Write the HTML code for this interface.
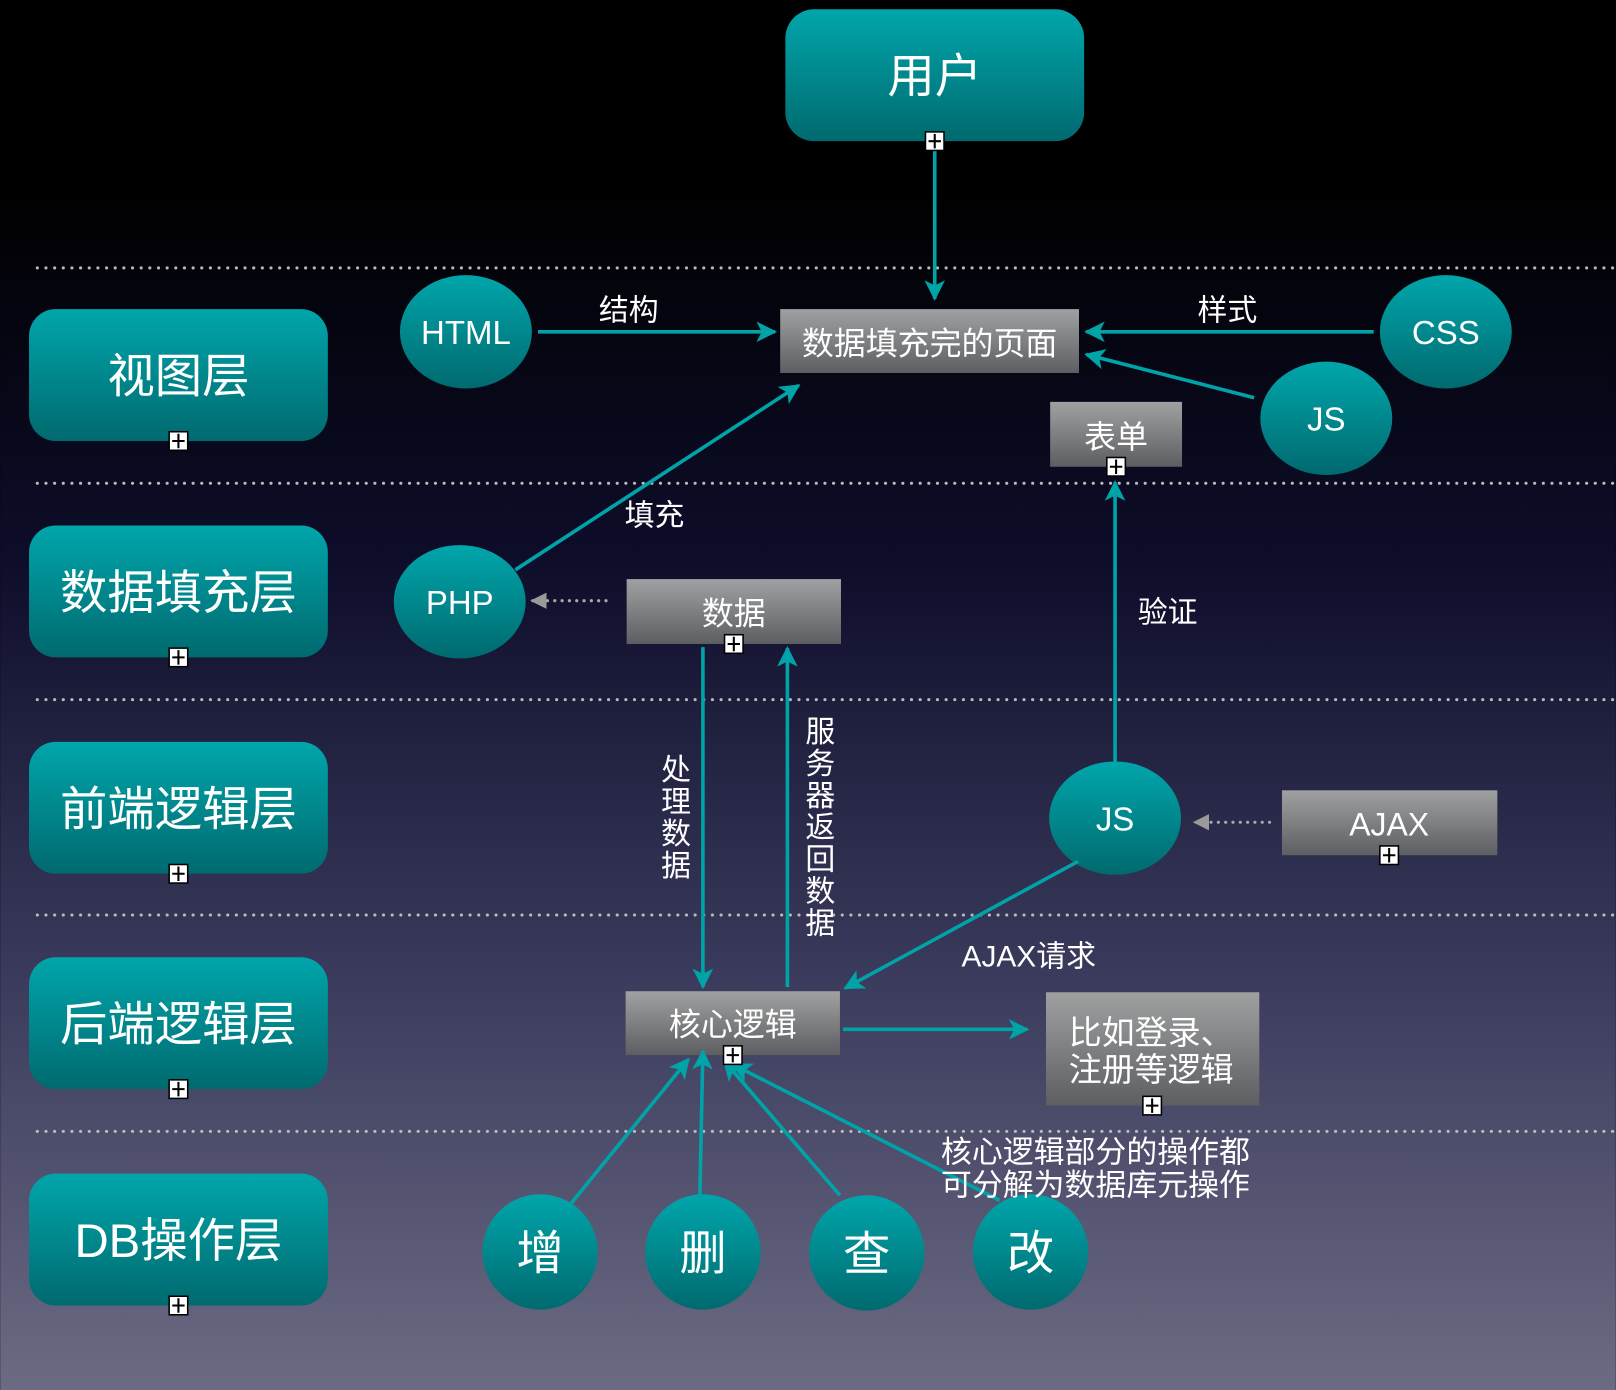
<!DOCTYPE html>
<html><head><meta charset="utf-8"><style>
html,body{margin:0;padding:0;background:#000;}
svg{display:block}
text{font-family:"Liberation Sans","Noto Sans CJK SC",sans-serif;fill:#fff}
</style></head><body>
<svg width="1616" height="1390" viewBox="0 0 1568 1349" xmlns="http://www.w3.org/2000/svg">
<defs>
<linearGradient id="bg" x1="0" y1="0" x2="0" y2="1">
<stop offset="0" stop-color="#000"/><stop offset="0.13" stop-color="#000"/>
<stop offset="0.4" stop-color="#0d0d2a"/><stop offset="0.7" stop-color="#3a3a5c"/>
<stop offset="1" stop-color="#6b6b84"/></linearGradient>
<linearGradient id="teal" x1="0" y1="0" x2="0" y2="1">
<stop offset="0" stop-color="#00a6ab"/><stop offset="1" stop-color="#006a6f"/></linearGradient>
<linearGradient id="gray" x1="0" y1="0" x2="0" y2="1">
<stop offset="0" stop-color="#9fa1a1"/><stop offset="1" stop-color="#5c5e62"/></linearGradient>
<marker id="ar" viewBox="0 0 10 10" refX="9" refY="5" markerWidth="20" markerHeight="20" orient="auto" markerUnits="userSpaceOnUse">
<path d="M0,0 L10,5 L0,10 L2.5,5 Z" fill="#00a3a8"/></marker>
<marker id="ag" viewBox="0 0 10 10" refX="9" refY="5" markerWidth="16" markerHeight="16" orient="auto" markerUnits="userSpaceOnUse">
<path d="M0,0 L10,5 L0,10 Z" fill="#9a9a9a"/></marker>
<g id="plus"><rect x="-9" y="-9" width="18" height="18" fill="#fff" stroke="#000" stroke-width="1.5"/><path d="M-6,0H6M0,-7V7" stroke="#000" stroke-width="2"/></g>
</defs>
<rect width="1568" height="1349" fill="url(#bg)"/>
<g stroke="#bbb" stroke-width="3" stroke-dasharray="0.1 8.3" stroke-linecap="round">
<path d="M36,260H1568M36,469H1568M36,679H1568M36,888H1568M36,1098H1568"/></g>

<g font-size="46" text-anchor="middle">
<rect x="28" y="300" width="290" height="128" rx="26" fill="url(#teal)"/><text x="173" y="381">视图层</text>
<rect x="28" y="510" width="290" height="128" rx="26" fill="url(#teal)"/><text x="173" y="591">数据填充层</text>
<rect x="28" y="720" width="290" height="128" rx="26" fill="url(#teal)"/><text x="173" y="801">前端逻辑层</text>
<rect x="28" y="929" width="290" height="128" rx="26" fill="url(#teal)"/><text x="173" y="1010">后端逻辑层</text>
<rect x="28" y="1139" width="290" height="128" rx="26" fill="url(#teal)"/><text x="173" y="1220">DB操作层</text>
<rect x="762" y="9" width="290" height="128" rx="28" fill="url(#teal)"/><text x="907" y="90">用户</text>
</g>

<g fill="url(#gray)">
<rect x="757" y="300" width="290" height="62"/>
<rect x="1019" y="390" width="128" height="63"/>
<rect x="608" y="562" width="208" height="63"/>
<rect x="1244" y="767" width="209" height="63"/>
<rect x="607" y="962" width="208" height="62"/>
<rect x="1015" y="963" width="207" height="110"/>
</g>
<g font-size="31" text-anchor="middle">
<text x="902" y="344">数据填充完的页面</text>
<text x="1083" y="435">表单</text>
<text x="712" y="606">数据</text>
<text x="1348" y="811">AJAX</text>
<text x="711" y="1005">核心逻辑</text>
</g>
<g font-size="32"><text x="1037" y="1013">比如登录、</text><text x="1037" y="1049">注册等逻辑</text></g>

<g fill="url(#teal)">
<ellipse cx="452" cy="322" rx="64" ry="55"/>
<ellipse cx="1403" cy="322" rx="64" ry="55"/>
<ellipse cx="1287" cy="406" rx="64" ry="55"/>
<ellipse cx="446" cy="584" rx="64" ry="55"/>
<ellipse cx="1082" cy="794" rx="64" ry="55"/>
<ellipse cx="524" cy="1215" rx="56" ry="56"/>
<ellipse cx="682" cy="1215" rx="56" ry="56"/>
<ellipse cx="841" cy="1216" rx="56" ry="56"/>
<ellipse cx="1000" cy="1215" rx="56" ry="56"/>
</g>
<g font-size="32" text-anchor="middle">
<text x="452" y="334">HTML</text><text x="1403" y="334">CSS</text><text x="1287" y="418">JS</text>
<text x="446" y="596">PHP</text><text x="1082" y="806">JS</text>
</g>
<g font-size="46" text-anchor="middle">
<text x="524" y="1232">增</text><text x="682" y="1232">删</text><text x="841" y="1233">查</text><text x="1000" y="1232">改</text>
</g>

<g stroke="#00a3a8" stroke-width="3.5" fill="none" marker-end="url(#ar)">
<path d="M907,146V290"/>
<path d="M522,322H752"/>
<path d="M1333,322H1054"/>
<path d="M1217,386L1054,344"/>
<path d="M500,553L775,374"/>
<path d="M682,628V958"/>
<path d="M764,958V629"/>
<path d="M1082,740V468"/>
<path d="M1046,836L820,959"/>
<path d="M818,999H997"/>
<path d="M554,1168L668,1028"/>
<path d="M679,1162L682,1020"/>
<path d="M815,1160L703,1030"/>
<path d="M970,1165L711,1033"/>
</g>
<g stroke="#aaa" stroke-width="3" stroke-dasharray="0.1 7" stroke-linecap="round" fill="none" marker-end="url(#ag)">
<path d="M588,583H516"/><path d="M1232,798H1159"/>
</g>

<g font-size="29">
<text x="581" y="311">结构</text><text x="1162" y="311">样式</text>
<text x="606" y="510">填充</text><text x="1104" y="604">验证</text>
<text x="933" y="938">AJAX请求</text>
</g>
<g font-size="30">
<text x="913" y="1128">核心逻辑部分的操作都</text><text x="913" y="1160">可分解为数据库元操作</text>
</g>
<g font-size="29" text-anchor="middle">
<text x="656" y="757">处</text><text x="656" y="788">理</text><text x="656" y="819">数</text><text x="656" y="850">据</text>
<text x="796" y="720">服</text><text x="796" y="751">务</text><text x="796" y="782">器</text><text x="796" y="813">返</text><text x="796" y="844">回</text><text x="796" y="875">数</text><text x="796" y="906">据</text>
</g>

<use href="#plus" x="173" y="428"/><use href="#plus" x="173" y="638"/><use href="#plus" x="173" y="848"/>
<use href="#plus" x="173" y="1057"/><use href="#plus" x="173" y="1267"/>
<use href="#plus" x="907" y="137"/><use href="#plus" x="1083" y="453"/><use href="#plus" x="712" y="625"/>
<use href="#plus" x="1348" y="830"/><use href="#plus" x="711" y="1024"/><use href="#plus" x="1118" y="1073"/>
</svg>
</body></html>
